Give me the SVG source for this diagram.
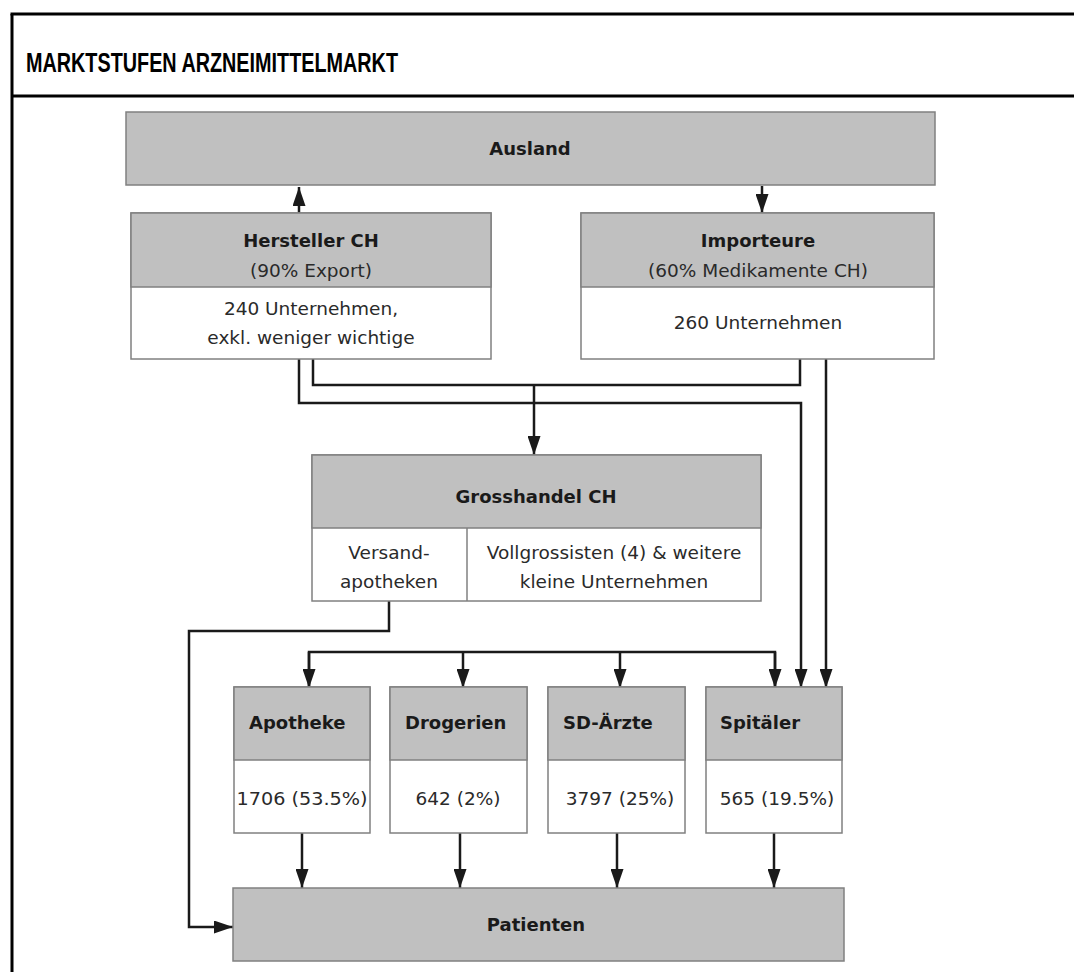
<svg xmlns="http://www.w3.org/2000/svg" width="1074" height="972" viewBox="0 0 1074 972">
<defs>
<marker id="ah" markerUnits="userSpaceOnUse" markerWidth="19" markerHeight="13" refX="19" refY="6.5" orient="auto">
<path d="M0,0 L19,6.5 L0,13 z" fill="#1a1a1a"/>
</marker>
<style>
.hd{fill:#c0c0c0;stroke:#808080;stroke-width:1.5}
.bd{fill:#ffffff;stroke:#808080;stroke-width:1.5}
.dv{stroke:#808080;stroke-width:1.5;fill:none}
.t{font-family:"DejaVu Sans","Liberation Sans",sans-serif;font-size:18.5px;fill:#2a2a2a}
.b{font-family:"DejaVu Sans","Liberation Sans",sans-serif;font-size:18px;font-weight:bold;fill:#1a1a1a}
.c{text-anchor:middle}
.ln{fill:none;stroke:#1a1a1a;stroke-width:2.5}
.ar{marker-end:url(#ah)}
</style>
</defs>
<rect width="1074" height="972" fill="#ffffff"/>
<g id="frame">
<line x1="10.5" y1="14" x2="1074" y2="14" stroke="#000" stroke-width="3"/>
<line x1="12" y1="14" x2="12" y2="972" stroke="#000" stroke-width="3"/>
<line x1="12" y1="96" x2="1074" y2="96" stroke="#000" stroke-width="3"/>
<text x="26" y="72" font-family="Liberation Sans, Arial, sans-serif" font-size="27" font-weight="bold" textLength="372" lengthAdjust="spacingAndGlyphs">MARKTSTUFEN ARZNEIMITTELMARKT</text>
</g>
<g id="connectors">
<line class="ln ar" x1="299" y1="213" x2="299" y2="187"/>
<line class="ln ar" x1="762" y1="186" x2="762" y2="213"/>
<polyline class="ln" points="313,359 313,385 800,385 800,359"/>
<line class="ln ar" x1="534" y1="385" x2="534" y2="455"/>
<polyline class="ln ar" points="299,359 299,403 801,403 801,688"/>
<line class="ln ar" x1="826" y1="359" x2="826" y2="688"/>
<polyline class="ln ar" points="389,601 389,631 189,631 189,927 233,927"/>
<polyline class="ln" points="309,687 309,652 775,652 775,687"/>
<line class="ln ar" x1="309" y1="652" x2="309" y2="688"/>
<line class="ln ar" x1="463" y1="652" x2="463" y2="688"/>
<line class="ln ar" x1="620" y1="652" x2="620" y2="688"/>
<line class="ln ar" x1="775" y1="652" x2="775" y2="688"/>
<line class="ln ar" x1="302" y1="833" x2="302" y2="888"/>
<line class="ln ar" x1="460" y1="833" x2="460" y2="888"/>
<line class="ln ar" x1="617" y1="833" x2="617" y2="888"/>
<line class="ln ar" x1="774" y1="833" x2="774" y2="888"/>
</g>
<g id="ausland">
<rect class="hd" x="126" y="112" width="809" height="73"/>
<text class="b c" x="530" y="155">Ausland</text>
</g>
<g id="hersteller">
<rect class="bd" x="131" y="213" width="360" height="146"/>
<rect class="hd" x="131" y="213" width="360" height="74"/>
<text class="b c" x="311" y="247">Hersteller CH</text>
<text class="t c" x="311" y="277">(90% Export)</text>
<text class="t c" x="311" y="315">240 Unternehmen,</text>
<text class="t c" x="311" y="344">exkl. weniger wichtige</text>
</g>
<g id="importeure">
<rect class="bd" x="581" y="213" width="353" height="146"/>
<rect class="hd" x="581" y="213" width="353" height="74"/>
<text class="b c" x="758" y="247">Importeure</text>
<text class="t c" x="758" y="277">(60% Medikamente CH)</text>
<text class="t c" x="758" y="329">260 Unternehmen</text>
</g>
<g id="grosshandel">
<rect class="bd" x="312" y="455" width="449" height="146"/>
<rect class="hd" x="312" y="455" width="449" height="73"/>
<line class="dv" x1="467" y1="528" x2="467" y2="601"/>
<text class="b c" x="536" y="503">Grosshandel CH</text>
<text class="t c" x="389" y="559">Versand-</text>
<text class="t c" x="389" y="588">apotheken</text>
<text class="t c" x="614" y="559">Vollgrossisten (4) &amp; weitere</text>
<text class="t c" x="614" y="588">kleine Unternehmen</text>
</g>
<g id="apotheke">
<rect class="bd" x="234" y="687" width="136" height="146"/>
<rect class="hd" x="234" y="687" width="136" height="73"/>
<text class="b" x="249" y="729">Apotheke</text>
<text class="t c" x="302" y="805" textLength="131" lengthAdjust="spacingAndGlyphs">1706 (53.5%)</text>
</g>
<g id="drogerien">
<rect class="bd" x="390" y="687" width="137" height="146"/>
<rect class="hd" x="390" y="687" width="137" height="73"/>
<text class="b" x="405" y="729">Drogerien</text>
<text class="t c" x="458" y="805">642 (2%)</text>
</g>
<g id="sdaerzte">
<rect class="bd" x="548" y="687" width="137" height="146"/>
<rect class="hd" x="548" y="687" width="137" height="73"/>
<text class="b" x="563" y="729">SD-Ärzte</text>
<text class="t c" x="620" y="805">3797 (25%)</text>
</g>
<g id="spitaeler">
<rect class="bd" x="706" y="687" width="136" height="146"/>
<rect class="hd" x="706" y="687" width="136" height="73"/>
<text class="b" x="720" y="729">Spitäler</text>
<text class="t c" x="777" y="805">565 (19.5%)</text>
</g>
<g id="patienten">
<rect class="hd" x="233" y="888" width="611" height="73"/>
<text class="b c" x="536" y="931">Patienten</text>
</g>
</svg>
